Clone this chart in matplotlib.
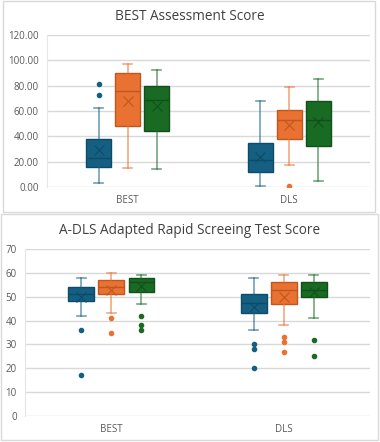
import numpy as np
import matplotlib.pyplot as plt
from matplotlib.patches import Rectangle

plt.rcParams['font.family'] = ['Open Sans', 'DejaVu Sans']

groups = ['BEST', 'DLS']
colors = ['#156082', '#E97132', '#196B24']
edge_colors = ['#0f4a66', '#c0571f', '#124f1a']

# BEST Assessment Score: per group, per series (low, q1, med, q3, high, mean, outliers)
best_low = [[3, 15, 14], [1, 17, 5]]
best_q1 = [[16, 48.5, 44], [11.5, 38, 32]]
best_med = [[23, 76, 69], [21, 53, 53]]
best_q3 = [[38, 90, 80], [35, 61, 68]]
best_high = [[62, 97, 92], [68, 79, 85]]
best_mean = [[29, 68, 64], [24, 49, 51]]
best_fliers = [[[73, 81], [], []], [[], [1], []]]

# A-DLS Adapted Rapid Screening Test Score
adls_low = [[42, 43, 47], [36, 38, 41]]
adls_q1 = [[48, 51, 52], [43, 47, 50]]
adls_med = [[51, 54, 56], [47.5, 53, 53]]
adls_q3 = [[54, 57, 58], [51, 56, 56]]
adls_high = [[58, 60, 59], [58, 59, 59]]
adls_mean = [[50, 53, 54.5], [45.5, 50, 52]]
adls_fliers = [[[36, 17], [41, 35], [42, 38, 36]],
               [[30, 28, 20], [33, 31, 27], [32, 25]]]


def draw(ax, low, q1, med, q3, high, mean, fliers, offset, width):
    for g in range(len(groups)):
        for s in range(3):
            st = dict(whislo=low[g][s], q1=q1[g][s], med=med[g][s], q3=q3[g][s],
                      whishi=high[g][s], mean=mean[g][s], fliers=fliers[g][s])
            c = colors[s]
            ec = edge_colors[s]
            ax.bxp([st], positions=[g + (s - 1) * offset], widths=width,
                   patch_artist=True, showmeans=True, manage_ticks=False,
                   boxprops=dict(facecolor=c, edgecolor=ec, linewidth=1),
                   medianprops=dict(color=ec, linewidth=1),
                   whiskerprops=dict(color=c, alpha=0.6, linewidth=1.2),
                   capprops=dict(color=c, alpha=0.6, linewidth=1.2),
                   capwidths=width * 0.35,
                   meanprops=dict(marker='x', markeredgecolor=ec, markersize=7,
                                  markeredgewidth=0.8),
                   flierprops=dict(marker='o', markerfacecolor=c, markeredgecolor=c,
                                   markersize=3))
    ax.set_xlim(-0.5, 1.5)
    ax.set_xticks(range(len(groups)))
    ax.set_xticklabels(groups)
    ax.grid(axis='y', color='#d9d9d9', linewidth=1)
    ax.set_axisbelow(True)
    for sp in ['top', 'right', 'bottom']:
        ax.spines[sp].set_visible(False)
    ax.spines['left'].set_color('#e6e6e6')
    ax.tick_params(length=0, labelsize=7, colors='#595959', pad=6)


fig = plt.figure(figsize=(3.8, 4.42), dpi=100)
W, H = 380, 442

fig.add_artist(Rectangle((3 / W, 1 - 212 / H), 372 / W, 211.5 / H, transform=fig.transFigure,
                         fill=False, edgecolor='#d9d9d9', linewidth=1))
fig.add_artist(Rectangle((1 / W, 1 - 440 / H), 377 / W, 226 / H, transform=fig.transFigure,
                         fill=False, edgecolor='#d9d9d9', linewidth=1))

ax1 = fig.add_axes([47 / W, 1 - 187 / H, 323 / W, 152 / H])
draw(ax1, best_low, best_q1, best_med, best_q3, best_high, best_mean, best_fliers, 0.18, 0.155)
ax1.set_ylim(0, 120)
ax1.set_yticks(np.arange(0, 121, 20))
ax1.set_yticklabels(['%.2f' % v for v in np.arange(0, 121, 20)])
fig.text(190 / W, 1 - 17 / H, 'BEST Assessment Score', ha='center', va='center',
         fontsize=9.8, color='#404040')

ax2 = fig.add_axes([25 / W, 1 - 416 / H, 345 / W, 167 / H])
draw(ax2, adls_low, adls_q1, adls_med, adls_q3, adls_high, adls_mean, adls_fliers, 0.175, 0.15)
ax2.set_ylim(0, 70)
ax2.set_yticks(np.arange(0, 71, 10))
fig.text(190 / W, 1 - 230 / H, 'A-DLS Adapted Rapid Screeing Test Score', ha='center',
         va='center', fontsize=9.8, color='#404040')

fig.savefig('out.png', dpi=100)
